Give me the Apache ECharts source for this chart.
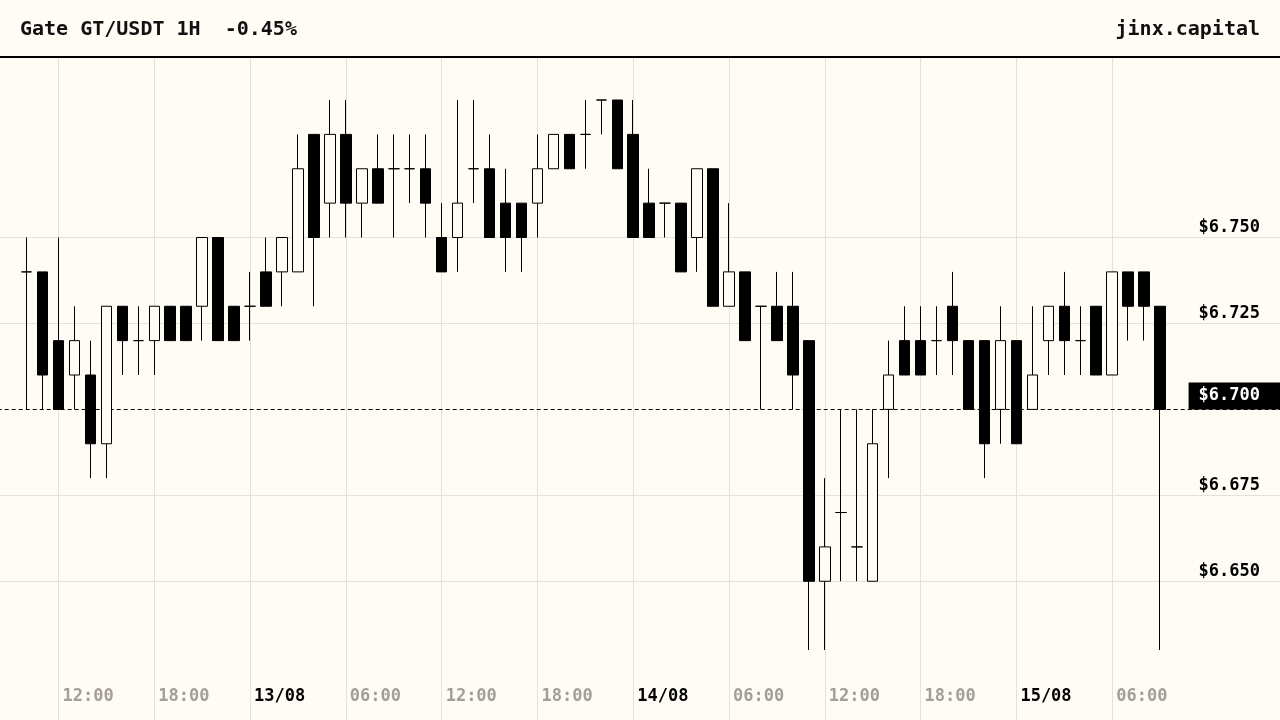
<!DOCTYPE html>
<html>
<head>
<meta charset="UTF-8">
<title>Gate GT/USDT 1H</title>
<script src="https://cdn.jsdelivr.net/npm/echarts@6/dist/echarts.min.js"></script>
<style>
  html, body { margin: 0; padding: 0; background: #fffcf5; }
  #chart { width: 1280px; height: 720px; }
</style>
</head>
<body>
<div id="chart"></div>
<script type="text/javascript">
// hourly candles, 12/08 10:00 -> 15/08 09:00
var opens  = [6.74,6.74,6.72,6.71,6.71,6.69,6.73,6.72,6.72,6.73,6.73,6.73,6.75,6.73,6.73,6.74,6.74,6.74,6.78,6.76,
              6.78,6.76,6.77,6.77,6.77,6.77,6.75,6.75,6.77,6.77,6.76,6.76,6.76,6.77,6.78,6.78,6.79,6.79,6.78,6.76,
              6.76,6.76,6.75,6.77,6.73,6.74,6.73,6.73,6.73,6.72,6.65,6.67,6.66,6.65,6.70,6.72,6.72,6.72,6.73,6.72,
              6.72,6.70,6.72,6.70,6.72,6.73,6.72,6.73,6.71,6.74,6.74,6.73];
var closes = [6.74,6.71,6.70,6.72,6.69,6.73,6.72,6.72,6.73,6.72,6.72,6.75,6.72,6.72,6.73,6.73,6.75,6.77,6.75,6.78,
              6.76,6.77,6.76,6.77,6.77,6.76,6.74,6.76,6.77,6.75,6.75,6.75,6.77,6.78,6.77,6.78,6.79,6.77,6.75,6.75,
              6.76,6.74,6.77,6.73,6.74,6.72,6.73,6.72,6.71,6.65,6.66,6.67,6.66,6.69,6.71,6.71,6.71,6.72,6.72,6.70,
              6.69,6.72,6.69,6.71,6.73,6.72,6.72,6.71,6.74,6.73,6.73,6.70];
var highs  = [6.75,6.74,6.75,6.73,6.72,6.73,6.73,6.73,6.73,6.73,6.73,6.75,6.75,6.73,6.74,6.75,6.75,6.78,6.78,6.79,
              6.79,6.77,6.78,6.78,6.78,6.78,6.76,6.79,6.79,6.78,6.77,6.76,6.78,6.78,6.78,6.79,6.79,6.79,6.79,6.77,
              6.76,6.76,6.77,6.77,6.76,6.74,6.73,6.74,6.74,6.72,6.68,6.70,6.70,6.70,6.72,6.73,6.73,6.73,6.74,6.72,
              6.72,6.73,6.72,6.73,6.73,6.74,6.73,6.73,6.74,6.74,6.74,6.73];
var lows   = [6.70,6.70,6.70,6.70,6.68,6.68,6.71,6.71,6.71,6.72,6.72,6.72,6.72,6.72,6.72,6.73,6.73,6.74,6.73,6.75,
              6.75,6.75,6.76,6.75,6.76,6.75,6.74,6.74,6.76,6.75,6.74,6.74,6.75,6.77,6.77,6.77,6.78,6.77,6.75,6.75,
              6.75,6.74,6.74,6.73,6.73,6.72,6.70,6.72,6.70,6.63,6.63,6.65,6.65,6.65,6.68,6.71,6.71,6.71,6.71,6.70,
              6.68,6.69,6.69,6.70,6.71,6.71,6.71,6.71,6.71,6.72,6.72,6.63];

var timeLabels  = ['12:00','18:00','13/08','06:00','12:00','18:00','14/08','06:00','12:00','18:00','15/08','06:00'];
var priceLevels = [6.650, 6.675, 6.725, 6.750];
var lastPrice   = 6.700;

var firstOffset = 4;   // hours between axis start and first candle
var tickHours   = 6;

var bg = '#fffcf5';
var gridColor = '#e4e1db';
var mono = "'DejaVu Sans Mono', monospace";

var candles = [];
for (var i = 0; i < opens.length; i++) {
  candles.push([i + firstOffset, opens[i], closes[i], lows[i], highs[i]]);
}

var marks = [];
for (var k = 0; k < timeLabels.length; k++) {
  marks.push({
    xAxis: (k + 1) * tickHours,
    lineStyle: { color: gridColor, width: 1, type: 'solid' },
    label: { show: false }
  });
}
priceLevels.forEach(function (p) {
  marks.push({
    yAxis: p,
    lineStyle: { color: gridColor, width: 1, type: 'solid' },
    label: {
      show: true, position: 'insideEndTop', distance: [20, 1],
      formatter: '$' + p.toFixed(3),
      color: '#000', fontFamily: mono, fontSize: 17, fontWeight: 'bold'
    }
  });
});
marks.push({
  yAxis: lastPrice,
  lineStyle: { color: '#000', width: 1, type: [4, 3] },
  label: {
    show: true, position: 'insideEndTop', distance: [0, 0],
    formatter: '$' + lastPrice.toFixed(3),
    color: '#fff', backgroundColor: '#000', padding: [5, 20, 5, 10],
    fontFamily: mono, fontSize: 17, fontWeight: 'bold'
  }
});

var chart = echarts.init(document.getElementById('chart'));
chart.setOption({
  backgroundColor: bg,
  animation: false,
  title: [
    { text: 'Gate GT/USDT 1H  -0.45%', left: 20, top: 20, padding: 0,
      textStyle: { fontFamily: mono, fontSize: 20, fontWeight: 'bold', color: '#111' } },
    { text: 'jinx.capital', right: 20, top: 20, padding: 0,
      textStyle: { fontFamily: mono, fontSize: 20, fontWeight: 'bold', color: '#111' } }
  ],
  graphic: [
    { type: 'rect', shape: { x: 0, y: 56, width: 1280, height: 2 }, style: { fill: '#000' } }
  ],
  grid: { left: -37.3, right: 0, top: 58, bottom: 0, outerBoundsMode: 'none' },
  xAxis: {
    type: 'value', min: 0, max: 82.51, interval: tickHours,
    axisLine: { show: false }, axisTick: { show: false }, splitLine: { show: false },
    axisLabel: {
      inside: true, margin: 15, align: 'left', padding: [0, 0, 0, 4],
      formatter: function (v) {
        var k = Math.round(v / tickHours) - 1;
        if (k < 0 || k >= timeLabels.length || Math.abs(v - (k + 1) * tickHours) > 1e-6) return '';
        var t = timeLabels[k];
        return t.indexOf('/') > 0 ? '{d|' + t + '}' : '{t|' + t + '}';
      },
      rich: {
        t: { color: '#a39e96', fontFamily: mono, fontSize: 17, fontWeight: 'bold' },
        d: { color: '#000', fontFamily: mono, fontSize: 17, fontWeight: 'bold' }
      }
    }
  },
  yAxis: {
    type: 'value', min: 6.60964, max: 6.80222, show: false
  },
  series: [
    {
      type: 'line', data: [], z: 1, silent: true,
      markLine: { symbol: 'none', silent: true, animation: false, precision: 3, data: marks }
    },
    {
      type: 'candlestick', z: 10,
      data: candles,
      encode: { x: 0, y: [1, 2, 3, 4] },
      barWidth: 11,
      itemStyle: { color: bg, color0: '#000', borderColor: '#000', borderColor0: '#000', borderWidth: 1 }
    }
  ]
});
</script>
</body>
</html>
